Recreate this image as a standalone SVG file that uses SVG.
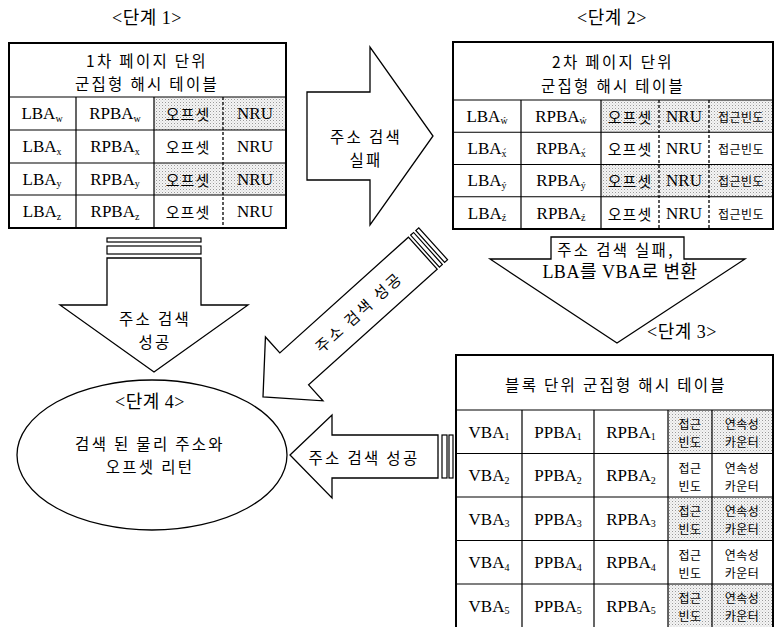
<svg xmlns="http://www.w3.org/2000/svg" width="775" height="627" viewBox="0 0 775 627">
<style>
.t{font-family:"Liberation Serif","Noto Sans CJK KR",serif;font-size:17px;text-anchor:middle;dominant-baseline:central;fill:#000}
.st{font-family:"Liberation Serif","Noto Sans CJK KR",serif;font-size:18px;text-anchor:middle;dominant-baseline:central;fill:#000;letter-spacing:0.5px}
.k{font-family:"Noto Sans CJK KR",sans-serif;font-size:15px;text-anchor:middle;dominant-baseline:central;fill:#000;letter-spacing:1px}
.kh{font-family:"Noto Sans CJK KR",sans-serif;font-size:15.5px;text-anchor:middle;dominant-baseline:central;fill:#000;letter-spacing:2.3px}
.ks{font-family:"Noto Sans CJK KR",sans-serif;font-size:12px;text-anchor:middle;dominant-baseline:central;fill:#000;letter-spacing:0.5px}
.s{font-size:10px}
.outer{fill:none;stroke:#000;stroke-width:2}
.ln{stroke:#000;stroke-width:1.2;fill:none}
.dash{stroke:#000;stroke-width:1.3;stroke-dasharray:3 2;fill:none}
.arrow{fill:#fff;stroke:#000;stroke-width:1.3;stroke-linejoin:miter}
.bar{fill:#fff;stroke:#000;stroke-width:1.2}
.shade{fill:url(#dots)}
</style>
<defs>
<pattern id="dots" width="3" height="3" patternUnits="userSpaceOnUse">
<rect width="3" height="3" fill="#f4f4f4"/>
<rect x="0" y="0" width="1" height="1" fill="#9a9a9a"/>
<rect x="1.5" y="1.5" width="1" height="1" fill="#c8c8c8"/>
</pattern>
</defs>
<rect width="775" height="627" fill="#fff"/>

<!-- stage labels -->
<text class="st" x="147" y="18">&lt;단계 1&gt;</text>
<text class="st" x="612" y="18">&lt;단계 2&gt;</text>
<text class="st" x="682" y="332">&lt;단계 3&gt;</text>

<!-- Table 1 -->
<g id="table1">
<rect x="9" y="43" width="277" height="185" fill="#fff"/>
<rect class="shade" x="154" y="97" width="132" height="33"/>
<rect class="shade" x="154" y="163" width="132" height="32"/>
<path class="ln" d="M9 97H286M9 130H286M9 163H286M9 195H286M76 97V228M154 97V228"/>
<path class="dash" d="M223 97V228"/>
<rect class="outer" x="9" y="43" width="277" height="185"/>
<text class="kh"><tspan x="147" y="60">1차 페이지 단위</tspan><tspan x="147" y="83">군집형 해시 테이블</tspan></text>
<text class="t" x="42" y="113.5">LBA<tspan class="s" dy="4">w</tspan></text>
<text class="t" x="115" y="113.5">RPBA<tspan class="s" dy="4">w</tspan></text>
<text class="k" x="188" y="113.5">오프셋</text>
<text class="t" x="255" y="113.5">NRU</text>
<text class="t" x="42" y="146.5">LBA<tspan class="s" dy="4">x</tspan></text>
<text class="t" x="115" y="146.5">RPBA<tspan class="s" dy="4">x</tspan></text>
<text class="k" x="188" y="146.5">오프셋</text>
<text class="t" x="255" y="146.5">NRU</text>
<text class="t" x="42" y="179">LBA<tspan class="s" dy="4">y</tspan></text>
<text class="t" x="115" y="179">RPBA<tspan class="s" dy="4">y</tspan></text>
<text class="k" x="188" y="179">오프셋</text>
<text class="t" x="255" y="179">NRU</text>
<text class="t" x="42" y="211.5">LBA<tspan class="s" dy="4">z</tspan></text>
<text class="t" x="115" y="211.5">RPBA<tspan class="s" dy="4">z</tspan></text>
<text class="k" x="188" y="211.5">오프셋</text>
<text class="t" x="255" y="211.5">NRU</text>
</g>

<!-- Table 2 -->
<g id="table2">
<rect x="453" y="42" width="320" height="187" fill="#fff"/>
<rect class="shade" x="601" y="100" width="172" height="32.25"/>
<rect class="shade" x="601" y="164.5" width="172" height="32.25"/>
<path class="ln" d="M453 100H773M453 132.25H773M453 164.5H773M453 196.75H773M521 100V229M601 100V229"/>
<path class="dash" d="M659 100V229M709 100V229"/>
<rect class="outer" x="453" y="42" width="320" height="187"/>
<text class="kh"><tspan x="613" y="61">2차 페이지 단위</tspan><tspan x="613" y="85">군집형 해시 테이블</tspan></text>
<text class="t" x="487" y="116">LBA<tspan class="s" dy="4">ẃ</tspan></text>
<text class="t" x="561" y="116">RPBA<tspan class="s" dy="4">ẃ</tspan></text>
<text class="k" x="630" y="116">오프셋</text>
<text class="t" x="684" y="116">NRU</text>
<text class="ks" x="741" y="116" font-size="13.5">접근빈도</text>
<text class="t" x="487" y="148.5">LBA<tspan class="s" dy="4">x́</tspan></text>
<text class="t" x="561" y="148.5">RPBA<tspan class="s" dy="4">x́</tspan></text>
<text class="k" x="630" y="148.5">오프셋</text>
<text class="t" x="684" y="148.5">NRU</text>
<text class="ks" x="741" y="148.5" font-size="13.5">접근빈도</text>
<text class="t" x="487" y="180.5">LBA<tspan class="s" dy="4">ý</tspan></text>
<text class="t" x="561" y="180.5">RPBA<tspan class="s" dy="4">ý</tspan></text>
<text class="k" x="630" y="180.5">오프셋</text>
<text class="t" x="684" y="180.5">NRU</text>
<text class="ks" x="741" y="180.5" font-size="13.5">접근빈도</text>
<text class="t" x="487" y="213">LBA<tspan class="s" dy="4">ź</tspan></text>
<text class="t" x="561" y="213">RPBA<tspan class="s" dy="4">ź</tspan></text>
<text class="k" x="630" y="213">오프셋</text>
<text class="t" x="684" y="213">NRU</text>
<text class="ks" x="741" y="213" font-size="13.5">접근빈도</text>
</g>

<!-- Table 3 -->
<g id="table3">
<rect x="456" y="355" width="317" height="274" fill="#fff"/>
<rect class="shade" x="668" y="410" width="105" height="43.5"/>
<rect class="shade" x="668" y="497" width="105" height="43.5"/>
<rect class="shade" x="668" y="584" width="105" height="45"/>
<path class="ln" d="M456 410H773M456 453.5H773M456 497H773M456 540.5H773M456 584H773M522 410V629M594 410V629M668 410V629M712 410V629"/>
<rect class="outer" x="456" y="355" width="317" height="274"/>
<text class="kh" x="616" y="384">블록 단위 군집형 해시 테이블</text>
<g>
<text class="t" x="489" y="432">VBA<tspan class="s" dy="4">1</tspan></text>
<text class="t" x="558" y="432">PPBA<tspan class="s" dy="4">1</tspan></text>
<text class="t" x="631" y="432">RPBA<tspan class="s" dy="4">1</tspan></text>
<text class="ks"><tspan x="690" y="423">접근</tspan><tspan x="690" y="441">빈도</tspan></text>
<text class="ks"><tspan x="742" y="423">연속성</tspan><tspan x="742" y="441">카운터</tspan></text>
</g>
<g>
<text class="t" x="489" y="475.5">VBA<tspan class="s" dy="4">2</tspan></text>
<text class="t" x="558" y="475.5">PPBA<tspan class="s" dy="4">2</tspan></text>
<text class="t" x="631" y="475.5">RPBA<tspan class="s" dy="4">2</tspan></text>
<text class="ks"><tspan x="690" y="466.5">접근</tspan><tspan x="690" y="484.5">빈도</tspan></text>
<text class="ks"><tspan x="742" y="466.5">연속성</tspan><tspan x="742" y="484.5">카운터</tspan></text>
</g>
<g>
<text class="t" x="489" y="519">VBA<tspan class="s" dy="4">3</tspan></text>
<text class="t" x="558" y="519">PPBA<tspan class="s" dy="4">3</tspan></text>
<text class="t" x="631" y="519">RPBA<tspan class="s" dy="4">3</tspan></text>
<text class="ks"><tspan x="690" y="510">접근</tspan><tspan x="690" y="528">빈도</tspan></text>
<text class="ks"><tspan x="742" y="510">연속성</tspan><tspan x="742" y="528">카운터</tspan></text>
</g>
<g>
<text class="t" x="489" y="562.5">VBA<tspan class="s" dy="4">4</tspan></text>
<text class="t" x="558" y="562.5">PPBA<tspan class="s" dy="4">4</tspan></text>
<text class="t" x="631" y="562.5">RPBA<tspan class="s" dy="4">4</tspan></text>
<text class="ks"><tspan x="690" y="553.5">접근</tspan><tspan x="690" y="571.5">빈도</tspan></text>
<text class="ks"><tspan x="742" y="553.5">연속성</tspan><tspan x="742" y="571.5">카운터</tspan></text>
</g>
<g>
<text class="t" x="489" y="606">VBA<tspan class="s" dy="4">5</tspan></text>
<text class="t" x="558" y="606">PPBA<tspan class="s" dy="4">5</tspan></text>
<text class="t" x="631" y="606">RPBA<tspan class="s" dy="4">5</tspan></text>
<text class="ks"><tspan x="690" y="597">접근</tspan><tspan x="690" y="615">빈도</tspan></text>
<text class="ks"><tspan x="742" y="597">연속성</tspan><tspan x="742" y="615">카운터</tspan></text>
</g>
</g>

<!-- Stage 4 ellipse -->
<g id="stage4">
<ellipse cx="152" cy="455" rx="135" ry="75" fill="#fff" stroke="#000" stroke-width="1.3"/>
<text class="st" x="150" y="402">&lt;단계 4&gt;</text>
<text class="kh"><tspan x="150" y="443">검색 된 물리 주소와</tspan><tspan x="150" y="466">오프셋 리턴</tspan></text>
</g>

<!-- connectors (block arrows) -->
<g id="connectors">
<g id="arrow-fail1">
<path class="arrow" d="M307 92H370V47L433 136L370 225V180H307Z"/>
<text class="kh"><tspan x="366" y="136">주소 검색</tspan><tspan x="366" y="159">실패</tspan></text>
</g>
<g id="arrow-success1">
<rect class="bar" x="107" y="238" width="94" height="4"/>
<rect class="bar" x="107" y="246" width="94" height="8"/>
<path class="arrow" d="M107 258H201V305H248L154 372L60 305H107Z"/>
<text class="kh"><tspan x="155" y="318">주소 검색</tspan><tspan x="155" y="341">성공</tspan></text>
</g>
<g id="arrow-fail2">
<path class="arrow" d="M551 237H684V259H745L617 343L490 259H551Z"/>
<text class="kh" x="616" y="249">주소 검색 실패,</text>
<text class="st" x="620" y="272">LBA를 VBA로 변환</text>
</g>
<g id="arrow-success2" transform="translate(263 397) rotate(-42)">
<path class="arrow" d="M0 0L42 -43V-21.5H215V21.5H42V43Z"/>
<rect class="bar" x="218" y="-21.5" width="4" height="43"/>
<rect class="bar" x="225" y="-21.5" width="4" height="43"/>
<text class="kh" x="128" y="0">주소 검색 성공</text>
</g>
<g id="arrow-success3">
<path class="arrow" d="M290 455L332 415V435H438V478H332V498Z"/>
<rect class="bar" x="442" y="435" width="5" height="43"/>
<rect class="bar" x="449" y="435" width="4" height="43" stroke-width="1.8"/>
<text class="kh" x="364" y="457">주소 검색 성공</text>
</g>
</g>
</svg>
